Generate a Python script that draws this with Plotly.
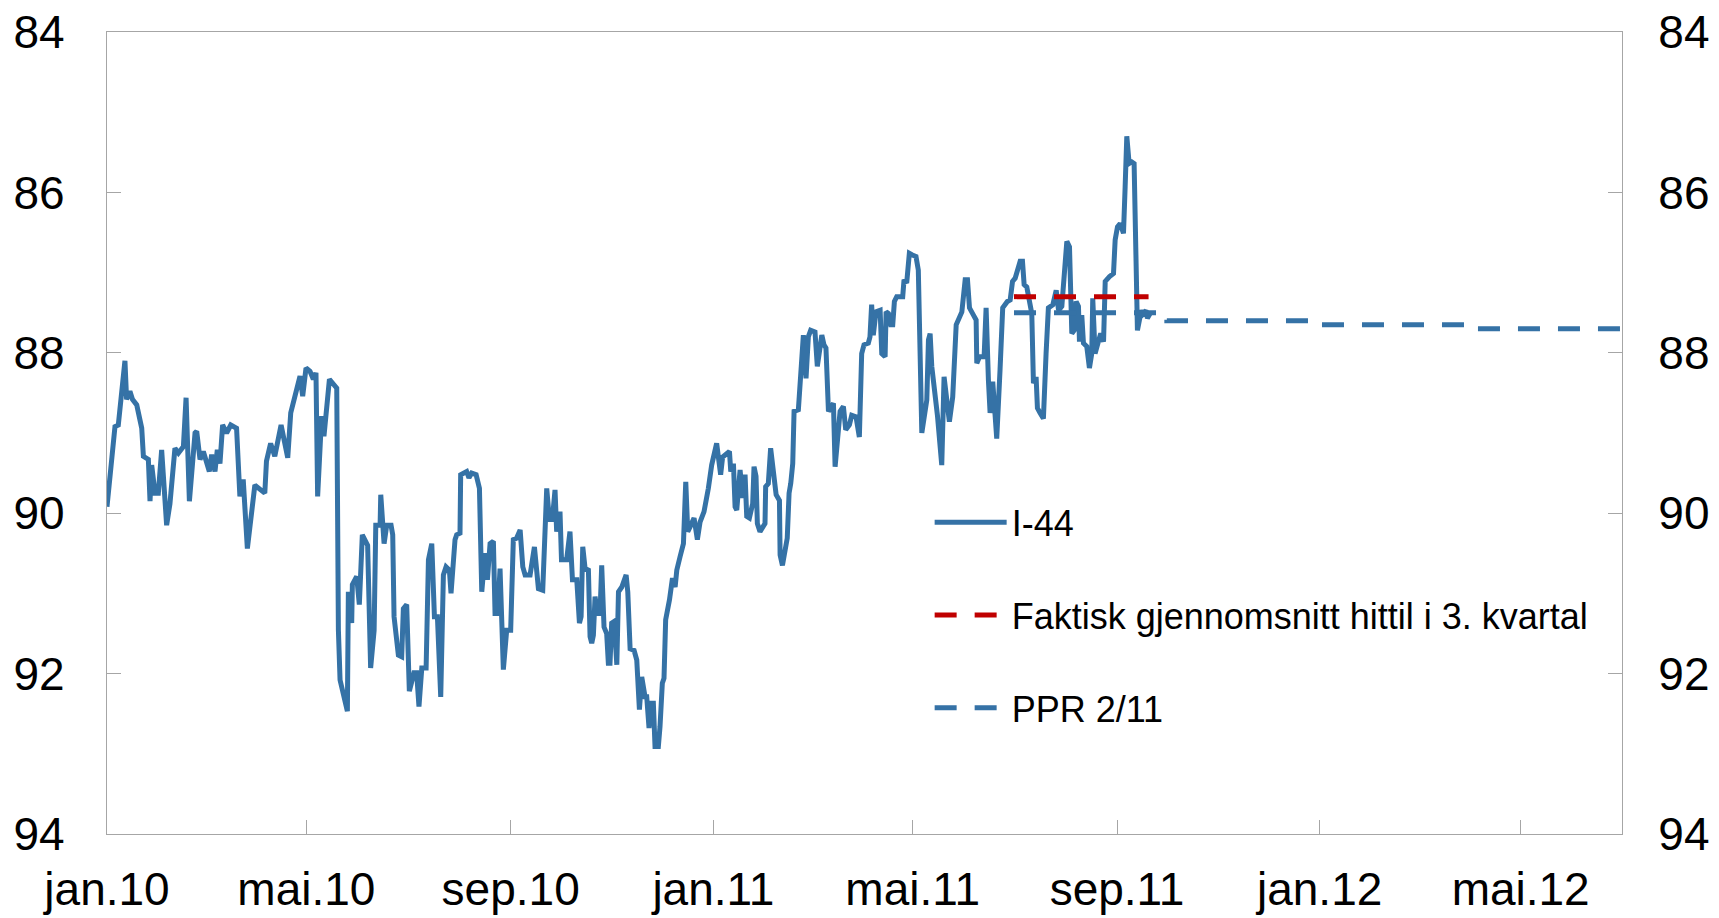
import pandas as pd
import plotly.graph_objects as go

# ---- data -------------------------------------------------------------
# I-44 index, day offsets from 2010-01-01 and index values
i44_days = [
    0, 4.8, 6.8, 10.8, 11.8, 13.8, 15.3, 17.9, 20.9, 21.9, 24.9, 25.9, 26.9, 28.9, 30.9,
    32.9, 35.9, 37.9, 40.9, 43, 46, 47.6, 49.6, 53, 54, 56, 58, 61.6, 63, 65, 66.4, 68,
    69.6, 72, 74.5, 78, 80, 82, 84.5, 89, 95, 96, 98.5, 101, 104.8, 108.8, 110.6, 112.6,
    116.2, 117.8, 119.8, 122.2, 124.2, 125.8, 126.8, 129.2, 130.6, 133.9, 135.9, 138.3,
    139.3, 140.3, 144.7, 145.3, 147.3, 147.7, 150.3, 151.9, 153.7, 155.3, 156.9, 158.7,
    160.8, 161.8, 164.4, 164.8, 166.8, 168.4, 171, 172, 172.8, 175.4, 177.4, 178.4, 180.4,
    182, 184.8, 186.4, 187.8, 189.5, 192.1, 193.5, 195.5, 197.1, 198.9, 200.9, 202.5,
    204.1, 206.1, 207.1, 209.5, 210.5, 212.5, 212.9, 216.5, 217.9, 219.5, 222.2, 224.2,
    225.6, 227.6, 229, 230.6, 232.6, 233.6, 235.2, 236.6, 238.6, 240.6, 243, 244.6, 246.6,
    248.7, 250.3, 251.7, 254.7, 257.3, 259.7, 262.3, 264.7, 266.3, 268.1, 269.7, 270.7,
    272.7, 273.6, 276.7, 278.7, 280.2, 282.8, 284.4,
    285.4, 286.4, 287.8, 289.8, 290.8, 291.8, 292.8, 293.8, 295.2, 296.8, 297.8, 299.2,
    300.8, 301.8, 302.8, 303.8, 305.3, 306.9, 307.9, 309.9, 312.5, 313.5, 314.9, 317.3,
    318.9, 320.5, 321.9, 323.9, 324.9, 326.3, 327.5, 328.9, 329.9, 331.9, 332.9, 334.3,
    335.3, 336.3, 338.6, 340.4, 342, 343, 345, 347, 348.4, 349.6, 351, 353.4, 355.4, 357,
    359.4, 361, 362, 364,
    367, 369.4, 370.6, 374.7, 375.5, 377.1, 378.1, 379.1, 381.1, 382.7, 384.1, 385.1,
    386.7, 388.7, 389.5, 390.7, 391.5, 393.1, 396.1, 396.5, 398.1, 399.5, 402.8, 404.8,
    405.2, 406.6, 409.5, 410.6, 411.6, 412.8, 413.6, 416.2, 417.2, 419.2, 420.8, 422.2,
    423.6, 426.2, 427.6, 430.3, 431.6, 432.8, 434.3, 436.3, 437.3, 438.3, 439.7, 441.3,
    443.3, 444.7, 446.9, 448.3, 450.9, 452.9, 454.3, 455.7, 458.3, 459.3, 460.3, 461.3,
    462.9, 465.4, 466.4, 468.4, 469, 470.4, 471.8, 473, 474, 475.4, 479, 479.8, 481.4,
    483, 484.8, 487, 488.4, 490.5, 493.5, 494.5, 495.5,
    496.5, 499.9, 502.5, 503.9, 505.1, 507.1, 509.1, 511.2, 514.6, 515.6, 516.6, 518,
    519.2, 521.6, 523.2, 523.6, 525.2, 528, 529.2, 530.6, 531.6, 533.2, 535.6, 537.6,
    539.2, 542, 543.7, 545.1, 546.7, 549.7, 551.1, 552.1, 553.7, 556.7, 557.7, 559.3,
    560.1, 561.7, 563.7, 565.3, 566.7, 569.4, 571.4, 572.8, 574.8, 577.8, 579.4, 580.8,
    582.2, 583.4, 584.8, 585.4, 586.8, 587.8, 589.8, 591.4, 592.8, 593.4, 594.8, 596.8,
    598.2, 599.9, 600.9, 603.5, 605.9, 606.9, 608.3, 609.9, 611.9, 612.9, 613.9, 615.3,
    616.9, 618.3, 619.5, 620.3, 621.5, 622.9, 623.9, 625.5, 626.3, 627.9,
]
i44_values = [
    89.92, 88.92, 88.90, 88.10, 88.58, 88.48, 88.58, 88.65, 88.94, 89.29, 89.33, 89.85,
    89.40, 89.75, 89.75, 89.21, 90.15, 89.88, 89.19, 89.25, 89.17, 88.56, 89.85, 89.00,
    88.98, 89.33, 89.23, 89.48, 89.27, 89.48, 89.21, 89.38, 88.90, 89.00, 88.90, 88.94,
    89.79, 89.58, 90.44, 89.65, 89.75, 89.35, 89.13, 89.29, 88.90, 89.31, 88.75, 88.60,
    88.29, 88.54, 88.19, 88.23, 88.33, 88.25, 89.79, 88.79, 89.04, 88.33, 88.38, 88.44,
    91.46, 92.08, 92.47, 90.98, 91.37, 90.89, 90.79, 91.14, 90.27, 90.35, 90.40, 91.93,
    91.46, 90.15, 90.15, 89.77, 90.38, 90.15, 90.15, 90.27, 91.29, 91.77, 91.79, 91.19,
    91.14, 92.22, 91.99, 91.99, 92.41, 91.93, 91.93, 90.58, 90.38, 91.29, 91.29, 92.29,
    90.77, 90.67, 90.71, 91.00, 90.33, 90.27, 90.25, 89.52, 89.48, 89.56, 89.50, 89.52,
    89.69, 90.98, 90.50, 90.83, 90.38, 90.35, 91.25, 91.25, 90.69, 91.95, 91.46, 91.46,
    90.33, 90.31, 90.21, 90.67, 90.77, 90.77, 90.42, 90.94, 90.96, 89.69, 90.08, 90.08,
    89.71, 90.23, 89.98, 90.58, 90.58, 90.23, 90.83, 90.83, 91.37,
    91.29, 90.42, 90.69, 90.71, 91.54, 91.62, 91.52, 91.04, 91.25, 91.25, 90.65, 91.42,
    91.50, 91.87, 91.87, 91.37, 91.35, 91.89, 90.98, 90.92, 90.77, 90.98, 91.69, 91.71,
    91.83, 92.45, 92.04, 92.29, 92.29, 92.68, 92.37, 92.37, 92.91, 92.91, 92.66, 92.12,
    92.06, 91.33, 91.08, 90.81, 90.92, 90.71, 90.54, 90.38, 89.61, 90.23, 90.17, 90.06,
    90.33, 90.11, 89.98, 89.73, 89.69, 89.40,
    89.13, 89.52, 89.30, 89.23, 89.48, 89.38, 89.92, 89.96, 89.46, 89.81, 89.52, 90.04,
    90.06, 89.88, 89.42, 89.54, 90.13, 90.23, 90.13, 89.67, 89.63, 89.19, 89.77, 89.84,
    90.52, 90.65, 90.31, 89.75, 89.63, 89.38, 88.73, 88.71, 88.34, 87.78, 88.32, 87.80,
    87.72, 87.74, 88.17, 87.78, 87.90, 87.94, 88.73, 88.65, 88.63, 89.42, 89.09, 88.73,
    88.67, 88.96, 88.90, 88.78, 88.80, 89.05, 88.01, 87.90, 87.88, 87.80, 87.40, 87.78,
    87.49, 87.47, 88.01, 88.05, 87.49, 87.51, 87.65, 87.65, 87.36, 87.30, 87.30, 87.09,
    87.13, 86.76, 86.78, 86.80, 86.97, 89.00, 88.59, 87.84, 87.76,
    88.17, 88.78, 89.40, 88.30, 88.55, 88.86, 88.55, 87.65, 87.49, 87.34, 87.09, 87.09,
    87.44, 87.53, 87.59, 88.13, 88.05, 88.05, 87.44, 88.34, 88.75, 88.36, 89.07, 88.21,
    87.44, 87.36, 87.34, 87.11, 87.07, 86.86, 86.86, 87.15, 87.18, 87.51, 88.38, 88.30,
    88.69, 88.75, 88.82, 88.01, 87.44, 87.40, 87.22, 87.47, 87.42, 86.61, 86.68, 87.76,
    87.72, 87.36, 87.42, 87.86, 87.53, 87.88, 87.92, 88.19, 88.01, 87.32, 88.01, 87.86,
    87.76, 87.86, 87.11, 87.05, 87.01, 86.59, 86.43, 86.39, 86.51, 85.93, 85.30, 85.64,
    85.62, 85.64, 86.93, 87.72, 87.59, 87.47, 87.51, 87.47, 87.57, 87.51,
]

# Actual average so far in Q3 2011
avg_dates = ["2011-07-01", "2011-09-20"]
avg_values = [87.3, 87.3]

# PPR 2/11 assumption path (quarterly)
ppr_dates = ["2011-07-01", "2011-10-01", "2012-01-01", "2012-04-01", "2012-07-01"]
ppr_values = [87.5, 87.6, 87.65, 87.7, 87.7]

tick_dates = ["2010-01-01", "2010-05-01", "2010-09-01", "2011-01-01",
              "2011-05-01", "2011-09-01", "2012-01-01", "2012-05-01"]
tick_labels = ["jan.10", "mai.10", "sep.10", "jan.11",
               "mai.11", "sep.11", "jan.12", "mai.12"]
y_ticks = [84, 86, 88, 90, 92, 94]

series_names = ["I-44", "Faktisk gjennomsnitt hittil i 3. kvartal", "PPR 2/11"]

# ---- figure -----------------------------------------------------------
BLUE = "#3572A6"
RED = "#C00000"
AXIS = "#A6A6A6"
FONT = "Liberation Sans, Arial, sans-serif"
DASH = "22px,18px"

i44_x = pd.Timestamp("2010-01-01") + pd.to_timedelta(i44_days, unit="D")

fig = go.Figure()
fig.add_trace(go.Scatter(
    x=i44_x, y=i44_values, mode="lines", name=series_names[0],
    line=dict(color=BLUE, width=5), legendgroup="a", legendrank=1,
))
fig.add_trace(go.Scatter(
    x=ppr_dates, y=ppr_values, mode="lines", name=series_names[2],
    line=dict(color=BLUE, width=5, dash=DASH, shape="hv"),
    legendgroup="c", legendrank=3,
))
fig.add_trace(go.Scatter(
    x=avg_dates, y=avg_values, mode="lines", name=series_names[1],
    line=dict(color=RED, width=5, dash=DASH),
    legendgroup="b", legendrank=2,
))
# invisible trace to carry the right-hand axis
fig.add_trace(go.Scatter(
    x=[avg_dates[0]], y=[avg_values[0]], yaxis="y2", mode="markers",
    marker=dict(opacity=0), showlegend=False, hoverinfo="skip",
))

axis_common = dict(
    showline=True, linecolor=AXIS, linewidth=1.3,
    ticks="inside", tickcolor=AXIS, ticklen=14, tickwidth=1.3,
    showgrid=False, zeroline=False, automargin=False,
    tickfont=dict(family=FONT, size=46, color="black"),
)

fig.update_layout(
    width=1719, height=918, autosize=False,
    margin=dict(l=107, r=97, t=32, b=84),
    paper_bgcolor="white", plot_bgcolor="white",
    font=dict(family=FONT, color="black"),
    xaxis=dict(
        **axis_common, mirror=True, type="date",
        range=["2010-01-01", "2012-07-01"],
        tickvals=tick_dates, ticktext=tick_labels,
        ticklabelstandoff=15,
    ),
    yaxis=dict(
        **axis_common, range=[94, 84], tickvals=y_ticks,
        ticklabelstandoff=32,
    ),
    yaxis2=dict(
        **axis_common, range=[94, 84], tickvals=y_ticks,
        overlaying="y", side="right", ticklabelstandoff=26,
    ),
    showlegend=True,
    legend=dict(
        x=0.543, y=0.426, xanchor="left", yanchor="top", itemwidth=72,
        font=dict(family=FONT, size=36, color="black"),
        bgcolor="rgba(0,0,0,0)", traceorder="grouped", tracegroupgap=43,
    ),
)

fig.write_html("out.html", config={"displayModeBar": False},
               post_script="document.body.style.margin='0';")
